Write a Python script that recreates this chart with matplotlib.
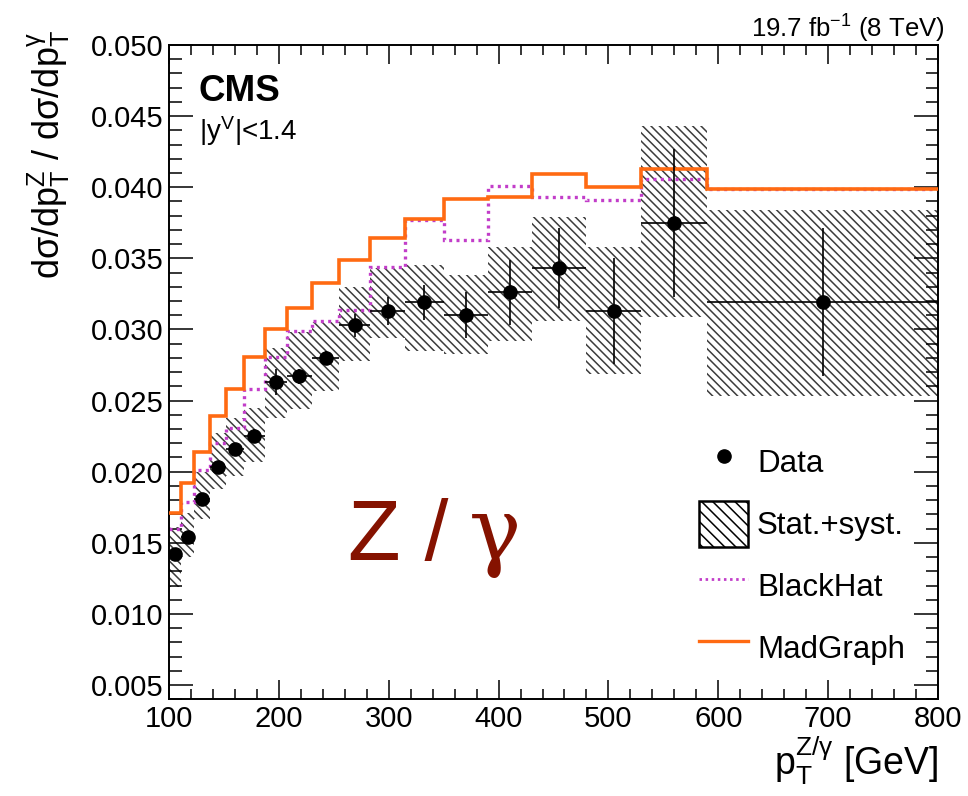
import matplotlib
matplotlib.use("Agg")
import matplotlib.pyplot as plt
import numpy as np
from matplotlib.lines import Line2D
from matplotlib.patches import Patch
from matplotlib.ticker import MultipleLocator, FormatStrFormatter

plt.rcParams['font.family'] = ['Liberation Sans', 'DejaVu Sans']
plt.rcParams['mathtext.fontset'] = 'custom'
plt.rcParams['mathtext.rm'] = 'Liberation Sans'
plt.rcParams['mathtext.it'] = 'Liberation Sans:italic'
plt.rcParams['mathtext.bf'] = 'Liberation Sans:bold'
plt.rcParams['hatch.linewidth'] = 1.1

# ---- data ----
bin_edges = [100, 111, 123, 137, 152, 168, 187, 207, 230, 255, 283, 315,
             350, 390, 430, 480, 530, 590, 800]
data_ratio = [0.0142, 0.0154, 0.0181, 0.0203, 0.0216, 0.0225, 0.0263, 0.0267,
              0.0280, 0.0303, 0.0313, 0.0319, 0.0310, 0.0326, 0.0343, 0.0313,
              0.0375, 0.0319]
data_stat = [0.0004, 0.0004, 0.0004, 0.0004, 0.0004, 0.0005, 0.0009, 0.0005,
             0.0005, 0.0008, 0.0010, 0.0012, 0.0016, 0.0023, 0.0028, 0.0037,
             0.0052, 0.0052]
band_lo = [0.0119, 0.0140, 0.0167, 0.0188, 0.0197, 0.0207, 0.0238, 0.0244,
           0.0257, 0.0278, 0.0294, 0.0285, 0.0283, 0.0292, 0.0306, 0.0269,
           0.0309, 0.0253]
band_hi = [0.0161, 0.0171, 0.0200, 0.0227, 0.0238, 0.0245, 0.0287, 0.0298,
           0.0305, 0.0330, 0.0343, 0.0345, 0.0338, 0.0358, 0.0379, 0.0358,
           0.0443, 0.0384]
madgraph = [0.0171, 0.0192, 0.0214, 0.0239, 0.0258, 0.0281, 0.0300, 0.0315,
            0.0333, 0.0349, 0.0364, 0.0378, 0.0392, 0.0393, 0.0409, 0.0400,
            0.0413, 0.0399]
blackhat = [0.0160, 0.0179, 0.0201, 0.0220, 0.0231, 0.0258, 0.0281, 0.0299,
            0.0306, 0.0314, 0.0344, 0.0377, 0.0363, 0.0401, 0.0393, 0.0391,
            0.0406, 0.0399]

edges = np.array(bin_edges, dtype=float)
centers = 0.5 * (edges[:-1] + edges[1:])
half_w = 0.5 * np.diff(edges)
lo = np.array(band_lo)
hi = np.array(band_hi)

W, H = 968, 796
fig = plt.figure(figsize=(W / 100, H / 100), dpi=100)
ax_l, ax_r, ax_t, ax_b = 169, 938, 45, 699.3
ax = fig.add_axes([ax_l / W, 1 - ax_b / H, (ax_r - ax_l) / W, (ax_b - ax_t) / H])

hatch_col = '#3c3c3c'
ax.bar(edges[:-1], hi - lo, width=np.diff(edges), bottom=lo, align='edge',
       facecolor='none', edgecolor=hatch_col, linewidth=0, hatch='\\\\\\\\', zorder=1)

ax.stairs(blackhat, edges, baseline=None, color='#C23DC9', linewidth=2.4,
          linestyle=(0, (0.9, 1.3)), zorder=2)
ax.stairs(madgraph, edges, baseline=None, color='#FF6A12', linewidth=2.6, zorder=3)

ax.errorbar(centers, data_ratio, xerr=half_w, yerr=data_stat, fmt='o', color='black',
            markersize=9.5, elinewidth=1.2, capsize=0, zorder=4)

ax.set_xlim(100, 800)
ax.set_ylim(0.004, 0.050)
ax.xaxis.set_major_locator(MultipleLocator(100))
ax.xaxis.set_minor_locator(MultipleLocator(20))
ax.yaxis.set_major_locator(MultipleLocator(0.005))
ax.yaxis.set_minor_locator(MultipleLocator(0.001))
ax.yaxis.set_major_formatter(FormatStrFormatter('%.3f'))
ax.tick_params(which='both', direction='in', top=True, right=True, width=1.1,
               labelsize=21, colors='black')
ax.tick_params(axis='y', which='major', length=17, pad=4)
ax.tick_params(axis='y', which='minor', length=9)
ax.tick_params(axis='x', which='major', length=13.5, pad=4)
ax.tick_params(axis='x', which='minor', length=7)
for s in ax.spines.values():
    s.set_linewidth(1.4)

ax.set_ylabel(r'dσ/dp$_{\mathrm{T}}^{\mathrm{Z}}$ / dσ/dp$_{\mathrm{T}}^{\mathrm{\gamma}}$',
              fontsize=26, loc='top')
ax.yaxis.set_label_coords(-0.126, 1.023)
ax.set_xlabel(r'p$_{\mathrm{T}}^{\mathrm{Z/\gamma}}$ [GeV]', fontsize=27, loc='right')
ax.xaxis.set_label_coords(1.0, -0.053)

fig.text(945 / W, 1 - 38 / H, r'19.7 fb$^{-1}$ (8 TeV)', ha='right', va='baseline', fontsize=18.5)
fig.text(199 / W, 1 - 101 / H, 'CMS', ha='left', va='baseline', fontsize=26.5, fontweight='bold')
fig.text(199 / W, 1 - 140 / H, r'|y$^{\mathrm{V}}$|<1.4', ha='left', va='baseline', fontsize=20)

fig.text(348 / W, 1 - 560 / H, 'Z /', ha='left', va='baseline', fontsize=62, color='#851200')
fig.text(469 / W, 1 - 560 / H, 'γ', ha='left', va='baseline', fontsize=63, color='#851200',
         family='DejaVu Serif')

handles = [
    Line2D([], [], marker='o', color='black', linestyle='none', markersize=9.5),
    Patch(facecolor='none', edgecolor='black', hatch='\\\\\\', linewidth=1.8),
    Line2D([], [], color='#C23DC9', linewidth=2.0, linestyle=(0, (0.9, 1.3))),
    Line2D([], [], color='#FF6A12', linewidth=2.4),
]
labels = ['Data', 'Stat.+syst.', 'BlackHat', 'MadGraph']
ax.legend(handles, labels, loc='upper left',
          bbox_to_anchor=((699 - ax_l) / (ax_r - ax_l), (ax_b - 439) / (ax_b - ax_t)),
          frameon=False, fontsize=22.5, handlelength=1.57, handleheight=1.89,
          handletextpad=0.29, labelspacing=0.51, borderpad=0, borderaxespad=0)

fig.savefig('out.png', dpi=100)
